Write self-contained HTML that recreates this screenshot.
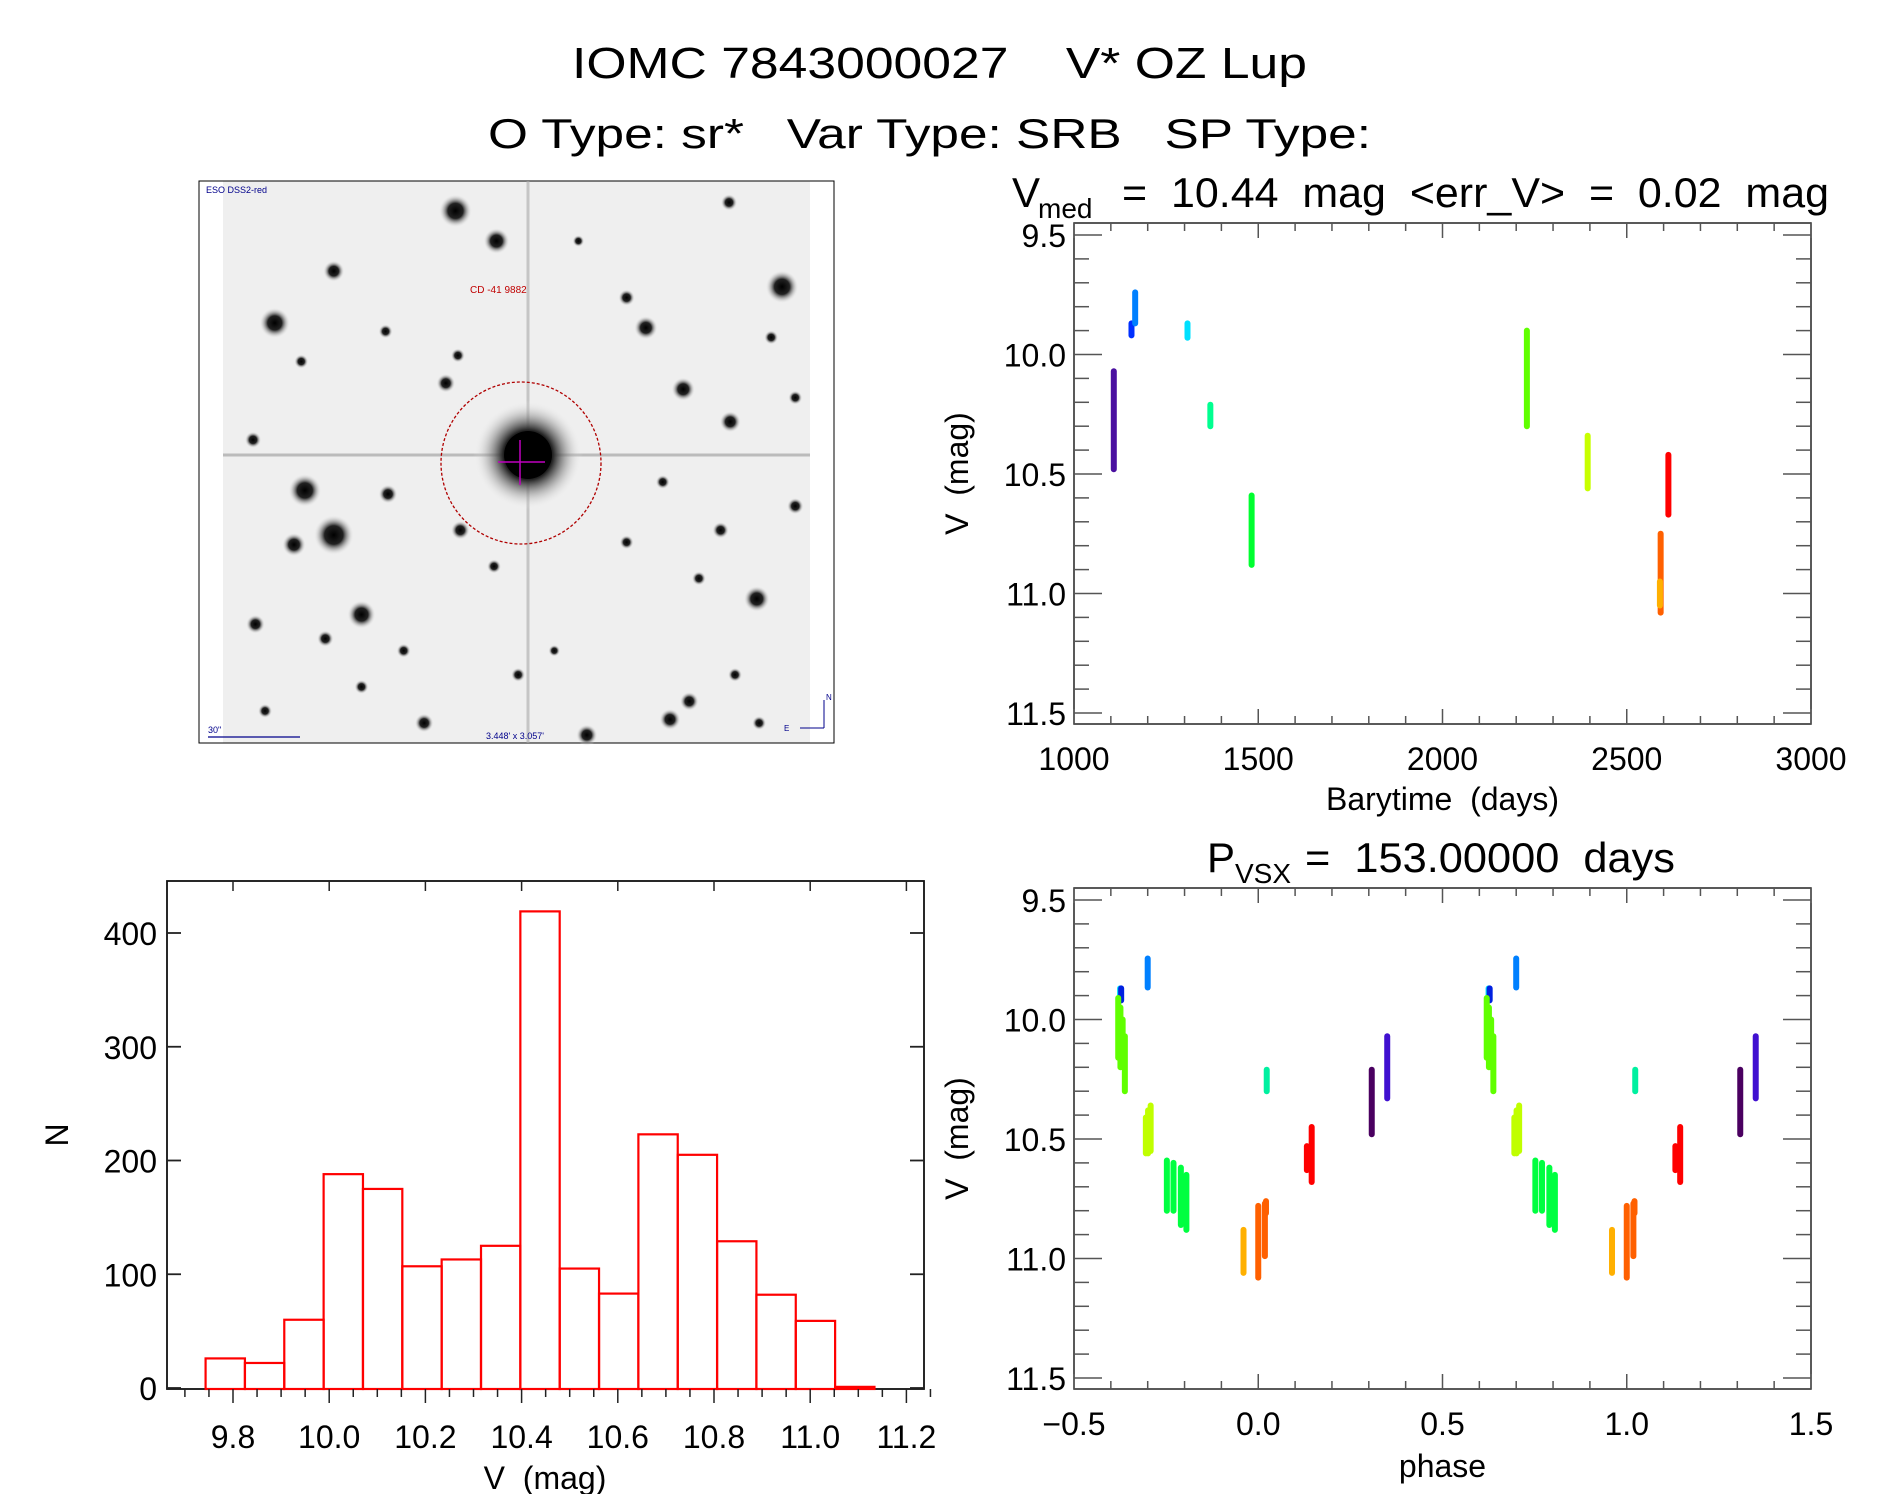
<!DOCTYPE html>
<html><head><meta charset="utf-8"><style>
html,body{margin:0;padding:0;background:#fff;}
svg{display:block;font-family:"Liberation Sans",sans-serif;}
text{white-space:pre;}
</style></head><body>
<svg id="fig" width="1889" height="1494" viewBox="0 0 1889 1494" xmlns="http://www.w3.org/2000/svg">
<text x="572" y="78" font-size="44" textLength="735" lengthAdjust="spacingAndGlyphs">IOMC 7843000027    V* OZ Lup</text>
<text x="488" y="148" font-size="42" textLength="883" lengthAdjust="spacingAndGlyphs">O Type: sr*   Var Type: SRB   SP Type:</text>
<g><text x="1012" y="207" font-size="42">V</text><text x="1038" y="218" font-size="28">med</text><text x="1122" y="207" font-size="42" textLength="707" lengthAdjust="spacingAndGlyphs">=  10.44  mag  &lt;err_V&gt;  =  0.02  mag</text></g>
<g><text x="1207" y="872" font-size="42">P</text><text x="1235" y="883" font-size="28">VSX</text><text x="1305" y="872" font-size="42" textLength="370" lengthAdjust="spacingAndGlyphs">=  153.00000  days</text></g>
<g id="img"></g>
<g id="p1"></g>
<g id="p2"></g>
<g id="p3"></g>
</svg>
<script>
// ---- light curve data ----
const lcTime=[1108,1156,1166,1308,1370,1482,2229,2394,2613,2592,2590];
const lcMin=[10.07,9.87,9.74,9.87,10.21,10.59,9.90,10.34,10.42,10.75,10.95];
const lcMax=[10.48,9.92,9.87,9.93,10.30,10.88,10.30,10.56,10.67,11.08,11.05];
const lcColor=["#4a10a0","#0030ff","#0080ff","#00e0ff","#00ff90","#00ff30","#60ff00","#c8ff00","#ff0000","#ff6000","#ffb000"];
// ---- phase data ----
const phPhase=[-0.375,-0.372,-0.300,-0.380,-0.374,-0.368,-0.362,-0.305,-0.299,-0.292,-0.248,-0.230,-0.210,-0.195,-0.040,0.000,0.018,0.021,0.023,0.132,0.145,0.308,0.350];
const phMin=[9.87,9.87,9.745,9.91,9.95,10.0,10.07,10.41,10.38,10.36,10.59,10.60,10.62,10.65,10.88,10.78,10.77,10.76,10.21,10.53,10.45,10.21,10.07];
const phMax=[9.92,9.92,9.866,10.16,10.20,10.20,10.30,10.56,10.56,10.55,10.80,10.80,10.86,10.88,11.06,11.08,10.99,10.81,10.30,10.63,10.68,10.48,10.33];
const phColor=["#00e0ff","#0020e0","#0080ff","#60ff00","#60ff00","#60ff00","#60ff00","#c0ff00","#c0ff00","#c0ff00","#00ff40","#00ff40","#00ff40","#00ff40","#ffb000","#ff6000","#ff6000","#ff6000","#00f0a0","#ff0000","#ff0000","#4a0060","#4010d0"];
// ---- histogram data ----
const binStart=9.743, binWidth=0.0818;
const histCounts=[26,22,60,188,175,107,113,125,419,105,83,223,205,129,82,59,1];
const histXTicks=["9.8","10.0","10.2","10.4","10.6","10.8","11.0","11.2"];
const histYTicks=[0,100,200,300,400];
const magTicks=["9.5","10.0","10.5","11.0","11.5"];
const timeTicks=["1000","1500","2000","2500","3000"];
const phaseTicks=["\u22120.5","0.0","0.5","1.0","1.5"];

const NS="http://www.w3.org/2000/svg";
function mk(parent,tag,attrs,text){const e=document.createElementNS(NS,tag);for(const k in attrs)e.setAttribute(k,attrs[k]);if(text!==undefined)e.textContent=text;parent.appendChild(e);return e;}

// ---- star field image ----
const img=document.getElementById('img');
mk(img,'rect',{x:223,y:181,width:587,height:562,fill:'#efefef'});
mk(img,'path',{d:'M199 181 H834 V743 H199 Z',fill:'none',stroke:'#000','stroke-width':1});
const grad=mk(img,'radialGradient',{id:'sg'});
mk(grad,'stop',{offset:'0','stop-color':'#000'});mk(grad,'stop',{offset:'0.45','stop-color':'#222'});mk(grad,'stop',{offset:'1','stop-color':'#fff','stop-opacity':0});
const stars=[[378,175,14],[412,200,11],[649,238,14],[228,268,13],[277,225,9],[536,272,10],[253,407,14],[277,444,17],[244,452,10],[300,510,12],[628,497,11],[567,323,10],[606,350,9],[556,597,9],[487,610,9],[352,600,8],[382,440,8],[572,582,8],[212,518,8],[520,247,7],[370,318,8],[605,168,7],[322,410,8],[598,440,7],[660,420,7],[210,365,7],[660,330,6],[270,530,7],[410,470,6],[520,450,6],[300,570,6],[460,540,5],[630,600,6],[250,300,6],[320,275,6],[480,200,5],[380,295,6],[550,400,6],[610,560,6],[220,590,6],[580,480,6],[335,540,6],[430,560,6],[640,280,6]];
stars.forEach(s=>{mk(img,'circle',{cx:s[0]*1.205,cy:s[1]*1.205,r:s[2]*1.205,fill:'url(#sg)'});});
mk(img,'line',{x1:223,y1:455,x2:810,y2:455,stroke:'#999','stroke-width':3,opacity:0.6});
mk(img,'line',{x1:528,y1:181,x2:528,y2:743,stroke:'#aaa','stroke-width':3,opacity:0.6});
mk(img,'circle',{cx:528,cy:455,r:55,fill:'url(#sg)'});
mk(img,'circle',{cx:528,cy:455,r:24,fill:'#000'});
mk(img,'ellipse',{cx:521,cy:463,rx:80,ry:81,fill:'none',stroke:'#b00000','stroke-width':1.3,'stroke-dasharray':'3 2'});
mk(img,'line',{x1:520,y1:440,x2:520,y2:485,stroke:'#c000c0','stroke-width':1.5});
mk(img,'line',{x1:498,y1:462,x2:545,y2:462,stroke:'#c000c0','stroke-width':1.5});
mk(img,'text',{x:206,y:193,'font-size':9,fill:'#00008b'},'ESO DSS2-red');
mk(img,'text',{x:470,y:293,'font-size':10,fill:'#c00000'},'CD -41 9882');
mk(img,'text',{x:486,y:739,'font-size':9,fill:'#00008b'},'3.448\' x 3.057\'');
mk(img,'text',{x:208,y:733,'font-size':9,fill:'#00008b'},'30"');
mk(img,'line',{x1:208,y1:737,x2:300,y2:737,stroke:'#00008b','stroke-width':1.2});
mk(img,'line',{x1:824,y1:700,x2:824,y2:728,stroke:'#00008b','stroke-width':1});
mk(img,'line',{x1:800,y1:728,x2:824,y2:728,stroke:'#00008b','stroke-width':1});
mk(img,'text',{x:826,y:700,'font-size':8,fill:'#00008b'},'N');
mk(img,'text',{x:784,y:731,'font-size':8,fill:'#00008b'},'E');

// ---- generic axes for scatter plots ----
function scatterAxes(g,L,R,T,B,xMin,xMax,yMin,yMax,xMajor,xMinor,yMajor,yMinor,xLabels,yLabels,xTitle,xTitleY){
  const sx=v=>L+(v-xMin)/(xMax-xMin)*(R-L);
  const sy=v=>T+12+(v-yMin)/(yMax-yMin)*(B-T-23);
  mk(g,'rect',{x:L,y:T,width:R-L,height:B-T,fill:'none',stroke:'#222','stroke-width':1.5});
  for(let v=xMin;v<=xMax+1e-9;v+=xMinor){const x=sx(v);const maj=Math.abs(Math.round((v-xMin)/xMajor)*xMajor-(v-xMin))<1e-6;const len=maj?15:8;
    mk(g,'line',{x1:x,y1:B,x2:x,y2:B-len,stroke:'#555','stroke-width':1.5});mk(g,'line',{x1:x,y1:T,x2:x,y2:T+len,stroke:'#555','stroke-width':1.5});}
  for(let v=yMin;v<=yMax+1e-9;v+=yMinor){const y=sy(v);const maj=Math.abs(Math.round((v-yMin)/yMajor)*yMajor-(v-yMin))<1e-6;const len=maj?28:15;
    mk(g,'line',{x1:L,y1:y,x2:L+len,y2:y,stroke:'#555','stroke-width':1.5});mk(g,'line',{x1:R,y1:y,x2:R-len,y2:y,stroke:'#555','stroke-width':1.5});}
  xLabels.forEach((t,i)=>{const t1=mk(g,'text',{x:sx(xMin+i*xMajor),y:B+46,'font-size':32,'text-anchor':'middle'},t);
    
    });
  yLabels.forEach((t,i)=>{const t1=mk(g,'text',{x:L-8,y:sy(yMin+i*yMajor)+12,'font-size':32,'text-anchor':'end'},t);
    
    });
  const xt=mk(g,'text',{x:(L+R)/2,y:xTitleY,'font-size':32,'text-anchor':'middle'},xTitle);
  
  
  const yt=mk(g,'text',{x:0,y:0,'font-size':32,'text-anchor':'middle',transform:`translate(968 ${(T+B)/2}) rotate(-90)`},'V  (mag)');
  
  
  return {sx,sy};
}
function cluster(g,x,y1,y2,c){
  const top=Math.min(y1,y2), h=Math.abs(y2-y1);
  mk(g,'rect',{x:x-3,y:top-3,width:6,height:h+6,rx:3,fill:c});
}

// light curve
const p1=document.getElementById('p1');
const a1=scatterAxes(p1,1074,1811,223,724,1000,3000,9.5,11.5,500,100,0.5,0.1,timeTicks,magTicks,'Barytime  (days)',810);
lcTime.forEach((t,i)=>{const e=mk(p1,'g',{});
  
  
  cluster(e,a1.sx(t),a1.sy(lcMin[i]),a1.sy(lcMax[i]),lcColor[i]);});

// phase plot
const p2=document.getElementById('p2');
const a2=scatterAxes(p2,1074,1811,888,1389,-0.5,1.5,9.5,11.5,0.5,0.1,0.5,0.1,phaseTicks,magTicks,'phase',1477);
phPhase.forEach((p,i)=>{[0,1].forEach(k=>{const e=mk(p2,'g',{});
  
  
  cluster(e,a2.sx(p+k),a2.sy(phMin[i]),a2.sy(phMax[i]),phColor[i]);});});

// histogram
const p3=document.getElementById('p3');
const HL=167,HR=924,HT=881,HB=1389;
const hx=v=>233+(v-9.8)/0.2*96.2;
const hy=n=>1388-n*1.1375;
mk(p3,'rect',{x:HL,y:HT,width:HR-HL,height:HB-HT,fill:'none',stroke:'#111','stroke-width':1.8});
histCounts.forEach((n,i)=>{const x0=hx(binStart+i*binWidth),x1=hx(binStart+(i+1)*binWidth);
  const r=mk(p3,'rect',{x:x0,y:hy(n),width:x1-x0,height:HB-hy(n),fill:'none',stroke:'#ff0000','stroke-width':2.2});
  
  });
for(let v=9.7;v<=11.2501;v+=0.05){const x=hx(v);const maj=Math.abs(Math.round(v*5)/5-v)<1e-6;
  mk(p3,'line',{x1:x,y1:HB,x2:x,y2:HB+(maj?14:8),stroke:'#222','stroke-width':1.5});
  if(maj)mk(p3,'line',{x1:x,y1:HT,x2:x,y2:HT+10,stroke:'#222','stroke-width':1.5});}
histXTicks.forEach(t=>{const e=mk(p3,'text',{x:hx(parseFloat(t)),y:1448,'font-size':32,'text-anchor':'middle'},t);
  
  });
histYTicks.forEach(n=>{const y=hy(n);
  mk(p3,'line',{x1:HL,y1:y,x2:HL+14,y2:y,stroke:'#222','stroke-width':1.8});
  mk(p3,'line',{x1:HR,y1:y,x2:HR-14,y2:y,stroke:'#222','stroke-width':1.8});
  const e=mk(p3,'text',{x:157,y:y+12,'font-size':32,'text-anchor':'end'},String(n));
  
  });
const hxt=mk(p3,'text',{x:545,y:1489,'font-size':32,'text-anchor':'middle'},'V  (mag)');


const hyt=mk(p3,'text',{x:0,y:0,'font-size':32,'text-anchor':'middle',transform:'translate(68 1135) rotate(-90)'},'N');


</script>
</body></html>
